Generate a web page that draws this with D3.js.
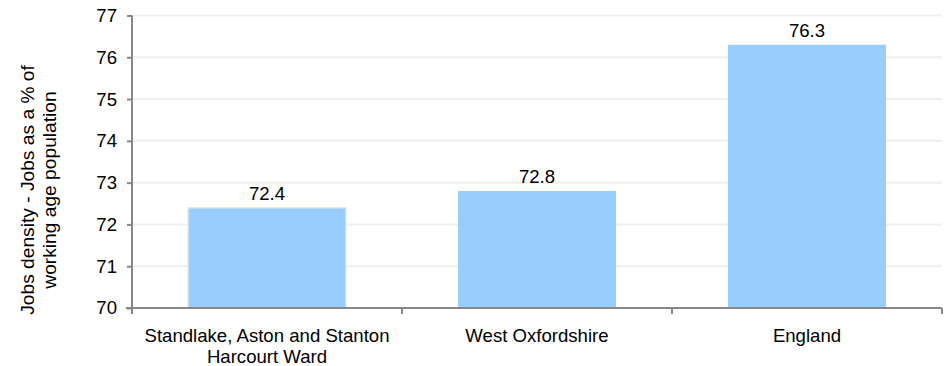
<!DOCTYPE html>
<html><head><meta charset="utf-8">
<script src="https://cdn.jsdelivr.net/npm/d3@7"></script>
<style>body{margin:0;background:#fff}svg{display:block}text{font-family:"Liberation Sans",Arial,sans-serif;fill:#000}</style>
</head><body>
<svg id="c" width="944" height="366"></svg>
<script>
const categories = [["Standlake, Aston and Stanton","Harcourt Ward"],["West Oxfordshire"],["England"]];
const values = [72.4, 72.8, 76.3];
const labels = ["72.4","72.8","76.3"];
const yTicks = [70,71,72,73,74,75,76,77];
const yTitle = ["Jobs density - Jobs as a % of","working age population"];

const FS = 18.6;
const svg = d3.select("#c");
const m = {l:132, r:942, t:15.5, b:308};
const x = d3.scaleBand().domain(d3.range(categories.length)).range([m.l, m.r]).paddingInner(0.415).paddingOuter(0.2075);
const y = d3.scaleLinear().domain([70,77]).range([m.b, m.t]);

// gridlines
svg.append("g").selectAll("line").data(yTicks.slice(1)).join("line")
  .attr("x1", m.l).attr("x2", m.r).attr("y1", d=>y(d)).attr("y2", d=>y(d))
  .attr("stroke","#efefef").attr("stroke-width",2);

// bars
svg.append("g").selectAll("rect").data(values).join("rect")
  .attr("x",(d,i)=>x(i)).attr("width",x.bandwidth())
  .attr("y",d=>y(d)).attr("height",d=>y(70)-y(d))
  .attr("fill","#99ccff")
  .attr("stroke",(d,i)=>i===0?"#e6ead8":"none").attr("stroke-width",1.5);

// value labels
svg.append("g").selectAll("text").data(values).join("text")
  .attr("x",(d,i)=>x(i)+x.bandwidth()/2).attr("y",d=>y(d)-8)
  .attr("text-anchor","middle").attr("font-size",FS).text((d,i)=>labels[i]);

// y axis
const ya = svg.append("g").attr("transform",`translate(${m.l},0)`)
  .call(d3.axisLeft(y).tickValues(yTicks).tickSize(5).tickPadding(10).tickFormat(d3.format("d")));
ya.select(".domain").attr("stroke","#888").attr("stroke-width",2).attr("d",`M0,${m.t}V${m.b}`);
ya.selectAll(".tick line").attr("stroke","#888").attr("stroke-width",2);
ya.selectAll(".tick text").attr("font-size",FS).attr("font-family","Liberation Sans, Arial, sans-serif").attr("fill","#000");

// x axis
const xb = d3.scaleLinear().domain([0,categories.length]).range([m.l,m.r]);
const xa = svg.append("g").attr("transform",`translate(0,${m.b})`);
xa.append("line").attr("x1",m.l-6).attr("x2",m.r).attr("y1",0).attr("y2",0).attr("stroke","#888").attr("stroke-width",2);
xa.selectAll(".xt").data(d3.range(categories.length+1)).join("line").attr("class","xt")
  .attr("x1",d=>xb(d)).attr("x2",d=>xb(d)).attr("y1",0).attr("y2",6).attr("stroke","#888").attr("stroke-width",2);
xa.selectAll(".xl").data(categories).join("text").attr("class","xl")
  .attr("x",(d,i)=>x(i)+x.bandwidth()/2).attr("y",34).attr("text-anchor","middle").attr("font-size",FS)
  .each(function(d){
    d3.select(this).selectAll("tspan").data(d).join("tspan")
      .attr("x",d3.select(this).attr("x")).attr("dy",(t,j)=>j===0?0:21).text(t=>t);
  });

// y title
const yt = svg.append("text").attr("transform","translate(34,190) rotate(-90)")
  .attr("text-anchor","middle").attr("font-size",19.2);
yt.selectAll("tspan").data(yTitle).join("tspan").attr("x",0).attr("dy",(t,j)=>j===0?0:22).text(t=>t);
</script>
</body></html>
